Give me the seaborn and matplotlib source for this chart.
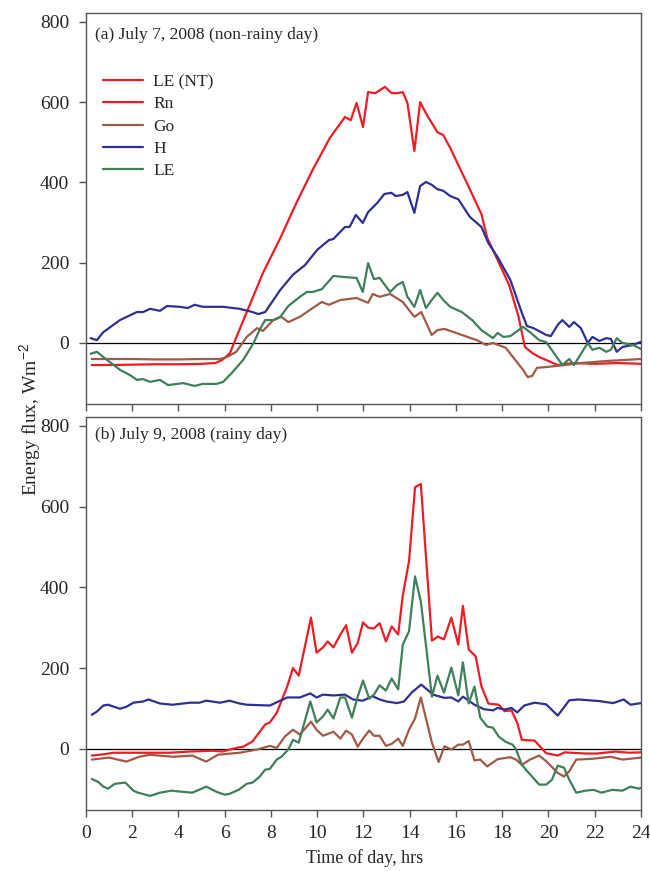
import numpy as np
import pandas as pd
import seaborn as sns
import matplotlib
matplotlib.use("Agg")
import matplotlib.pyplot as plt
from matplotlib.lines import Line2D

# ---------------- data: panel (a) July 7, 2008 ----------------
rn_a_t = [0.25, 1, 2, 3, 4, 5, 5.6, 5.9, 6.23, 6.4, 7.65, 8.4, 9.1, 9.8, 10.55, 11.2, 11.45, 11.7, 11.98,
          12.2, 12.5, 12.93, 13.2, 13.45, 13.7, 13.9, 14.2, 14.45, 14.74, 15.2, 15.45, 15.75, 16.55, 17.1,
          17.35, 17.8, 18.3, 18.7, 18.98, 19.3, 19.6, 20.4, 21.06, 22, 23, 24]
rn_a_v = [-55, -55, -54, -53, -53, -52, -50, -42, -25, 0, 174, 261, 349, 431, 511, 563, 555, 598, 538,
          625, 622, 638, 623, 622, 625, 598, 478, 600, 568, 525, 518, 486, 389, 321,
          262, 207, 144, 67, -10, -25, -35, -55, -50, -52, -50, -52]

go_a_t = [0.25, 1, 2, 3, 4, 5, 5.8, 6.1, 6.5, 6.95, 7.4, 7.65, 8.1, 8.45, 8.75, 9.25, 9.8, 10.2, 10.5, 11,
          11.7, 12.2, 12.4, 12.7, 13.15, 13.7, 14.2, 14.5, 14.95, 15.2, 15.5, 16.9, 17.3, 17.6, 18.15, 18.9,
          19.1, 19.3, 19.5, 19.9, 20.4, 21.4, 22.5, 24]
go_a_v = [-40, -40, -40, -41, -41, -40, -40, -35, -22, 15, 37, 30, 57, 65, 52, 65, 87, 102, 95, 107,
          112, 100, 122, 115, 122, 102, 65, 77, 20, 32, 35, 7, -5, 0, -12, -67,
          -85, -82, -62, -60, -57, -50, -45, -40]

h_a_t = [0.2, 0.47, 0.75, 1.47, 2.2, 2.47, 2.77, 3.2, 3.5, 4.06, 4.4, 4.7, 5.05, 5.93, 6.65, 7.2, 7.45, 7.75,
         8.4, 8.95, 9.47, 10, 10.5, 10.7, 11.2, 11.4, 11.67, 11.97, 12.2, 12.6, 12.9, 13.2, 13.4, 13.7, 13.9,
         14.2, 14.45, 14.7, 14.95, 15.2, 15.45, 15.75, 16.1, 16.6, 17.1, 17.4, 17.8, 18.35, 18.85, 19.07,
         19.35, 19.9, 20.1, 20.4, 20.6, 20.9, 21.1, 21.4, 21.7, 21.9, 22.2, 22.5, 22.7, 22.95, 23.2, 23.65, 24]
h_a_v = [12, 7, 27, 57, 77, 77, 85, 80, 92, 90, 87, 95, 90, 90, 85, 77, 72, 77,
         132, 170, 194, 232, 256, 259, 289, 289, 319, 299, 326, 349, 371, 374, 366, 369, 376,
         324, 391, 401, 394, 383, 379, 366, 358, 314, 289, 249, 214, 157, 75, 42,
         37, 20, 17, 45, 57, 40, 52, 37, 0, 15, 5, 12, 10, -22, -10, -5, 3]

le_a_t = [0.2, 0.47, 0.9, 1.47, 1.9, 2.2, 2.47, 2.77, 3.2, 3.55, 4.2, 4.7, 5.05, 5.65, 5.93, 6.3, 6.8, 7.25,
          7.5, 7.75, 8.1, 8.4, 8.75, 9.25, 9.55, 9.8, 10.2, 10.7, 11.2, 11.7, 11.97, 12.2, 12.45, 12.7,
          13.15, 13.45, 13.7, 13.9, 14.2, 14.45, 14.7, 14.95, 15.2, 15.45, 15.75, 16.25, 16.7, 17.1, 17.6,
          17.8, 18.05, 18.35, 18.9, 19.2, 19.6, 19.9, 20.2, 20.6, 20.9, 21.1, 21.7, 21.9, 22.2, 22.5, 22.7,
          22.95, 23.2, 23.65, 24]
le_a_v = [-27, -22, -42, -67, -80, -92, -90, -97, -92, -105, -100, -107, -102, -102, -97, -75, -42, 0,
          32, 57, 57, 65, 92, 115, 127, 127, 134, 167, 164, 162, 127, 199, 159, 162,
          127, 144, 152, 115, 90, 132, 87, 107, 125, 107, 90, 77, 57, 32, 12,
          25, 15, 17, 40, 27, 7, 2, -22, -55, -40, -55, 0, -17, -12, -22, -17,
          12, 0, -5, -15]

# ---------------- data: panel (b) July 9, 2008 ----------------
rn_b_t = [0.25, 0.6, 1.2, 1.75, 2.6, 3.6, 4.5, 5.5, 5.9, 6.5, 6.8, 7.2, 7.75, 7.95, 8.25, 8.7, 8.95, 9.2,
          9.73, 9.97, 10.25, 10.45, 10.7, 11, 11.25, 11.5, 11.75, 11.98, 12.2, 12.45, 12.7, 12.97, 13.22,
          13.5, 13.7, 13.97, 14.23, 14.48, 14.96, 15.22, 15.48, 15.8, 16.1, 16.3, 16.55, 16.85, 17.1, 17.4,
          17.85, 18.1, 18.4, 18.65, 18.85, 19.4, 19.9, 20.4, 20.7, 21.6, 22.1, 22.9, 23.5, 24]
rn_b_v = [-17, -15, -10, -10, -10, -10, -7, -5, -7, 2, 5, 18, 60, 65, 89, 154, 200, 181,
          325, 238, 251, 266, 251, 283, 306, 238, 262, 313, 300, 298, 311, 266, 303,
          283, 380, 465, 648, 656, 268, 278, 271, 325, 258, 354, 246, 229, 155, 112,
          109, 93, 95, 64, 22, 20, -11, -17, -9, -12, -12, -7, -10, -9]

go_b_t = [0.25, 1.0, 1.75, 2.3, 2.77, 3.75, 4.6, 5.2, 5.7, 6.65, 7.4, 7.95, 8.25, 8.6, 8.95, 9.25, 9.73,
          9.97, 10.25, 10.7, 11, 11.25, 11.5, 11.75, 11.98, 12.25, 12.45, 12.7, 12.97, 13.22, 13.5, 13.7,
          13.97, 14.23, 14.48, 14.96, 15.25, 15.5, 15.8, 16.1, 16.3, 16.55, 16.8, 17.05, 17.35, 17.8, 18.35,
          18.6, 18.85, 19.2, 19.6, 19.9, 20.4, 20.67, 20.9, 21.2, 21.9, 22.7, 23.2, 24]
go_b_v = [-27, -22, -32, -20, -15, -20, -17, -32, -15, -10, -2, 7, 2, 30, 47, 35, 67,
          47, 32, 42, 25, 45, 35, 5, 25, 45, 32, 32, 7, 12, 25, 7,
          47, 75, 127, 15, -33, 6, -2, 10, 10, 19, -29, -27, -44, -26, -21,
          -27, -40, -27, -17, -31, -60, -69, -56, -27, -25, -20, -27, -22]

h_b_t = [0.25, 0.47, 0.75, 0.95, 1.47, 1.75, 2.05, 2.47, 2.7, 3.2, 3.75, 4.5, 4.9, 5.2, 5.8, 6.2, 6.65,
         6.95, 7.95, 8.4, 8.7, 9.25, 9.7, 9.97, 10.25, 10.7, 11.2, 11.55, 11.97, 12.4, 12.7, 13.0, 13.45,
         13.75, 14.1, 14.5, 14.75, 15.0, 15.5, 15.8, 16.1, 16.3, 16.8, 17.2, 17.6, 17.8, 18.1, 18.4, 18.65,
         18.95, 19.4, 19.9, 20.4, 20.9, 21.3, 22.2, 22.8, 23.25, 23.55, 24]
h_b_v = [84, 92, 107, 109, 99, 104, 114, 117, 122, 112, 109, 114, 114, 119, 114, 119, 112,
         109, 107, 119, 127, 127, 137, 127, 134, 132, 134, 122, 119, 130, 122, 117, 113,
         117, 140, 159, 147, 134, 126, 127, 117, 129, 109, 98, 95, 101, 97, 101, 90,
         107, 114, 110, 82, 120, 122, 118, 113, 122, 109, 113]

le_b_t = [0.25, 0.52, 0.75, 0.95, 1.25, 1.7, 2.05, 2.25, 2.77, 3.2, 3.7, 4.2, 4.6, 5.2, 5.65, 6.0, 6.2,
          6.6, 6.95, 7.2, 7.5, 7.75, 7.95, 8.25, 8.45, 8.75, 8.95, 9.2, 9.7, 9.97, 10.25, 10.45, 10.7, 11.0,
          11.2, 11.5, 11.75, 11.98, 12.25, 12.45, 12.7, 12.97, 13.22, 13.5, 13.7, 13.97, 14.23, 14.48,
          14.96, 15.2, 15.48, 15.8, 16.1, 16.3, 16.55, 16.8, 17.05, 17.35, 17.6, 17.85, 18.15, 18.45, 18.6,
          18.85, 19.1, 19.6, 19.9, 20.15, 20.4, 20.67, 20.9, 21.2, 21.6, 21.95, 22.3, 22.75, 23.2, 23.55,
          23.9, 24]
le_b_v = [-75, -82, -94, -99, -87, -84, -104, -109, -117, -109, -104, -107, -109, -94, -107, -114, -112,
          -102, -87, -84, -70, -52, -50, -27, -20, -2, 22, 15, 117, 65, 80, 97, 75, 127,
          127, 77, 129, 169, 124, 134, 157, 144, 174, 147, 258, 291, 427, 365,
          129, 181, 139, 201, 132, 214, 112, 154, 77, 55, 52, 30, 17, 10, -2,
          -40, -57, -89, -89, -77, -42, -47, -77, -109, -104, -102, -109, -102, -104, -94,
          -99, -97]

panel_titles = ["(a) July 7, 2008 (non-rainy day)", "(b) July 9, 2008 (rainy day)"]
series_names = ["Rn", "Go", "H", "LE"]
x_ticks = list(range(0, 25, 2))
y_ticks = [0, 200, 400, 600, 800]

# ---------------- style ----------------
sns.set_style("ticks")
plt.rcParams["font.family"] = ["Liberation Serif", "DejaVu Serif"]
plt.rcParams["mathtext.fontset"] = "custom"
plt.rcParams["mathtext.rm"] = "Liberation Sans"
plt.rcParams["mathtext.it"] = "Liberation Sans"

colors = {"Rn": "#EE1C25", "Go": "#A05A48", "H": "#2E3192", "LE": "#3F7F5A"}
spine_col = "#555555"

fig = plt.figure(figsize=(6.5, 8.71), dpi=100)
ax_a = fig.add_axes([0.1323, 0.5362, 0.8538, 0.4489])
ax_b = fig.add_axes([0.1323, 0.0700, 0.8538, 0.4512])

panels = [
    (ax_a, [(rn_a_t, rn_a_v), (go_a_t, go_a_v), (h_a_t, h_a_v), (le_a_t, le_a_v)]),
    (ax_b, [(rn_b_t, rn_b_v), (go_b_t, go_b_v), (h_b_t, h_b_v), (le_b_t, le_b_v)]),
]
title_y = [0.944, 0.954]

for i, (ax, data) in enumerate(panels):
    ax.axhline(0, color="black", lw=0.9, zorder=1)
    for name, (t, v) in zip(series_names, data):
        df = pd.DataFrame({"t": t, "v": v})
        sns.lineplot(data=df, x="t", y="v", ax=ax, color=colors[name], lw=1.6,
                     sort=False, estimator=None, label=name, legend=False, zorder=2)
    ax.set_xlim(0, 24)
    ax.set_ylim(-152, 822)
    ax.set_xticks(x_ticks)
    ax.set_yticks(y_ticks)
    ax.set_xlabel("")
    ax.set_ylabel("")
    ax.tick_params(direction="out", length=5, width=1, color=spine_col,
                   labelsize=14, pad=7)
    for s in ax.spines.values():
        s.set_color(spine_col)
        s.set_linewidth(1.0)
    ax.text(0.017, title_y[i], panel_titles[i], transform=ax.transAxes,
            fontsize=12.6, va="center", ha="left")

ax_a.tick_params(labelbottom=False)
ax_b.set_xticklabels([str(x) for x in x_ticks])
ax_b.tick_params(axis="x", pad=6)

handles = [Line2D([], [], color=colors["Rn"], lw=1.6)] + \
          [Line2D([], [], color=colors[n], lw=1.6) for n in series_names]
labels = ["LE (NT)"] + series_names
leg = ax_a.legend(handles, labels, loc="upper left", bbox_to_anchor=(0.03, 0.844),
                  frameon=False, fontsize=12.5, handlelength=2.3, handletextpad=0.6,
                  labelspacing=0.35, borderaxespad=0.0, borderpad=0.0)

fig.text(0.046, 0.518, "Energy flux, Wm$^{-2}$", rotation=90, fontsize=14,
         ha="center", va="center")
fig.text(0.5615, 0.015, "Time of day, hrs", fontsize=13, ha="center", va="center")

fig.savefig("out.png", dpi=100)
